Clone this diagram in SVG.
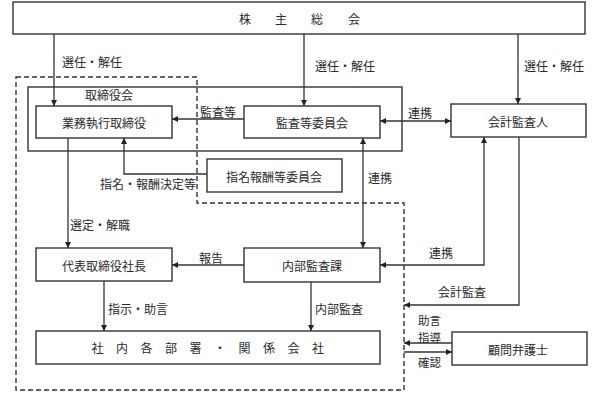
<svg xmlns="http://www.w3.org/2000/svg" width="602" height="395" viewBox="0 0 602 395">
<style>
.box{fill:#fff;stroke:#333;stroke-width:1.4}
.frame{fill:none;stroke:#333;stroke-width:1.4}
.dash{fill:none;stroke:#333;stroke-width:1.4;stroke-dasharray:5 3}
.c{fill:none;stroke:#333;stroke-width:1.3}
text{font-family:"Noto Sans CJK JP","Noto Sans CJK SC",sans-serif;font-size:12px;fill:#2a2a2a;dominant-baseline:central}
.m{text-anchor:middle}
.s{font-size:11.5px}
</style>
<defs>
<marker id="ah" markerUnits="userSpaceOnUse" markerWidth="7" markerHeight="6" refX="6" refY="3" orient="auto-start-reverse">
<path d="M0,0 L6,3 L0,6 z" fill="#222"/>
</marker>
</defs>
<rect width="602" height="395" fill="#fff"/>
<g id="boundary">
<path class="dash" d="M16 77 H197 V203 H404 V390 H16 Z"/>
</g>
<g id="board">
<rect class="frame" x="28" y="87" width="374" height="64"/>
<text class="m" x="109" y="94">取締役会</text>
</g>
<g id="shareholders">
<rect class="box" x="13" y="2" width="572" height="32"/>
<text class="m" x="245 281 317 354" y="18">株主総会</text>
</g>
<g id="exec">
<rect class="box" x="36" y="106" width="136" height="32"/>
<text class="m" x="104" y="122">業務執行取締役</text>
</g>
<g id="auditcom">
<rect class="box" x="244" y="106" width="136" height="32"/>
<text class="m" x="312" y="122">監査等委員会</text>
</g>
<g id="nomcom">
<rect class="box" x="207" y="159" width="135" height="33"/>
<text class="m" x="274" y="176">指名報酬等委員会</text>
</g>
<g id="accountant">
<rect class="box" x="451" y="104" width="135" height="33"/>
<text class="m" x="518" y="121">会計監査人</text>
</g>
<g id="president">
<rect class="box" x="36" y="248" width="136" height="33"/>
<text class="m" x="104" y="265">代表取締役社長</text>
</g>
<g id="internal">
<rect class="box" x="244" y="248" width="136" height="34"/>
<text class="m" x="312" y="265">内部監査課</text>
</g>
<g id="depts">
<rect class="box" x="36" y="331" width="344" height="33"/>
<text class="m" x="97.5 122 146.5 171 195.5 220 244.5 269 293.5 318" y="347">社内各部署・関係会社</text>
</g>
<g id="lawyer">
<rect class="box" x="452" y="332" width="135" height="33"/>
<text class="m" x="518" y="349">顧問弁護士</text>
</g>
<g id="connectors">
<path class="c" d="M54 34 V106" marker-end="url(#ah)"/>
<path class="c" d="M304 34 V106" marker-end="url(#ah)"/>
<path class="c" d="M518 34 V104" marker-end="url(#ah)"/>
<path class="c" d="M244 119 H172" marker-end="url(#ah)"/>
<path class="c" d="M380 121 H451" marker-start="url(#ah)" marker-end="url(#ah)"/>
<path class="c" d="M207 174 H124 V138" marker-end="url(#ah)"/>
<path class="c" d="M363 138 V248" marker-start="url(#ah)" marker-end="url(#ah)"/>
<path class="c" d="M484 137 V265 H380" marker-start="url(#ah)" marker-end="url(#ah)"/>
<path class="c" d="M519 137 V305 H404" marker-end="url(#ah)"/>
<path class="c" d="M68 138 V248" marker-end="url(#ah)"/>
<path class="c" d="M244 265 H172" marker-end="url(#ah)"/>
<path class="c" d="M104 281 V331" marker-end="url(#ah)"/>
<path class="c" d="M311 282 V331" marker-end="url(#ah)"/>
<path class="c" d="M452 343 H404" marker-end="url(#ah)"/>
<path class="c" d="M404 352 H452" marker-end="url(#ah)"/>
<text x="62" y="61">選任・解任</text>
<text x="315" y="65">選任・解任</text>
<text x="524" y="65">選任・解任</text>
<text x="200" y="111">監査等</text>
<text x="408" y="112">連携</text>
<text x="100" y="183">指名・報酬決定等</text>
<text x="368" y="177">連携</text>
<text x="70" y="224">選定・解職</text>
<text x="199" y="257">報告</text>
<text x="429" y="252">連携</text>
<text x="438" y="291">会計監査</text>
<text x="108" y="308">指示・助言</text>
<text x="315" y="308">内部監査</text>
<text class="s" x="418" y="320">助言</text>
<text class="s" x="418" y="336.5">指導</text>
<text class="s" x="418" y="362">確認</text>
</g>
</svg>
